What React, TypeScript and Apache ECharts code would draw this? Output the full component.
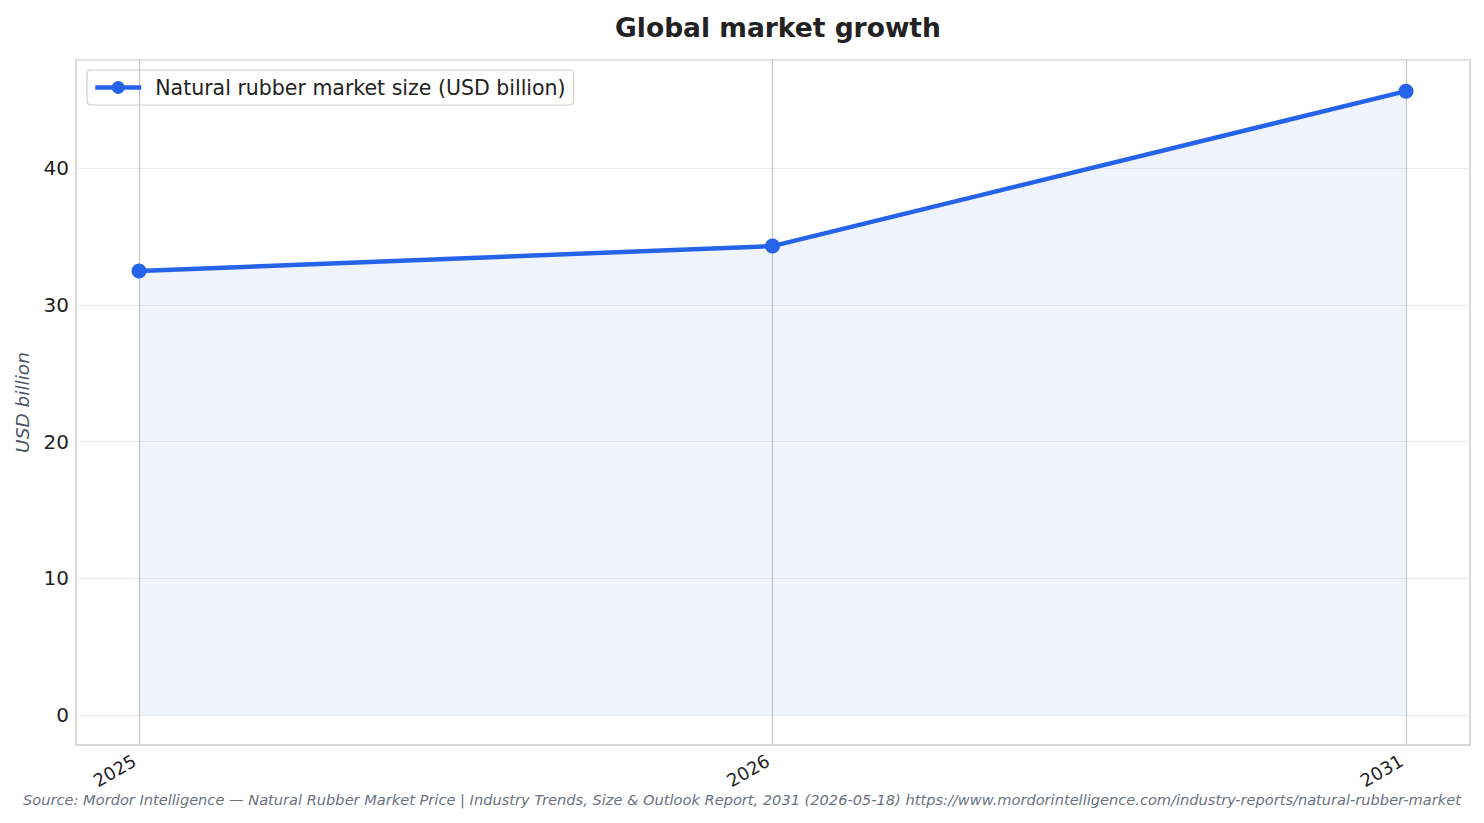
import React, { useEffect, useRef } from "react";
import * as echarts from "echarts";

const categories = ["2025", "2026", "2031"];
const marketSize = [32.47, 34.3, 45.63];
const seriesName = "Natural rubber market size (USD billion)";
const yTicks = [0, 10, 20, 30, 40];
const titleText = "Global market growth";
const yAxisName = "USD billion";
const sourceText =
  "Source: Mordor Intelligence — Natural Rubber Market Price | Industry Trends, Size & Outlook Report, 2031 (2026-05-18) https://www.mordorintelligence.com/industry-reports/natural-rubber-market";

const FONT = "DejaVu Sans";
const Y_MAX = 47.91;

export default function App() {
  const ref = useRef<HTMLDivElement>(null);
  useEffect(() => {
    if (!ref.current) return;
    const chart = echarts.init(ref.current, null, { renderer: "svg" });
    const option: any = {
      animation: false,
      backgroundColor: "#ffffff",
      textStyle: { fontFamily: FONT },
      title: {
        text: titleText,
        left: 773,
        textAlign: "center",
        top: 9,
        textStyle: { fontFamily: FONT, fontSize: 26.5, fontWeight: "bold", color: "#222222" },
      },
      legend: {
        show: true,
        left: 87,
        top: 70,
        orient: "horizontal",
        padding: [7, 8, 7, 6],
        borderColor: "#cccccc",
        borderWidth: 1.2,
        borderRadius: 4,
        itemWidth: 46,
        itemHeight: 16,
        itemGap: 10,
        lineStyle: { width: 4.5 },
        textStyle: { fontFamily: FONT, fontSize: 20.5, color: "#222222", padding: [0, 0, 0, 9] },
        data: [seriesName],
      },
      grid: [
        { left: 76, right: 14, top: 60, bottom: 78, show: true, borderColor: "#cccccc", borderWidth: 1.5, backgroundColor: "transparent" },
        { left: 76, right: 14, top: 60, bottom: 108 },
        { left: 139, right: 78, top: 60, bottom: 78 },
        { left: 139, right: 78, top: 60, bottom: 108 },
      ],
      xAxis: [
        { gridIndex: 0, type: "value", min: 0, max: 1, show: false },
        { gridIndex: 1, type: "value", min: 0, max: 1, show: false },
        {
          gridIndex: 2,
          type: "category",
          data: categories,
          boundaryGap: false,
          axisLine: { show: false },
          axisTick: { show: false },
          splitLine: { show: true, lineStyle: { color: "#c8c8c8", width: 1.2 } },
          axisLabel: {
            rotate: 30,
            margin: 22,
            align: "right",
            verticalAlign: "bottom",
            fontFamily: FONT,
            fontSize: 18,
            color: "#222222",
          },
        },
        { gridIndex: 3, type: "category", data: categories, boundaryGap: false, show: false },
      ],
      yAxis: [
        {
          gridIndex: 0,
          type: "value",
          min: 0,
          max: 1,
          axisLine: { show: false },
          axisTick: { show: false },
          axisLabel: { show: false },
          splitLine: { show: false },
          name: yAxisName,
          nameLocation: "middle",
          nameRotate: 90,
          nameGap: 44,
          nameTextStyle: { fontFamily: FONT, fontSize: 18.5, fontStyle: "italic", color: "#4b5563" },
        },
        {
          gridIndex: 1,
          type: "value",
          min: 0,
          max: Y_MAX,
          interval: 10,
          axisLine: { show: false },
          axisTick: { show: false },
          splitLine: { show: true, lineStyle: { color: "#ebebeb", width: 1.2 } },
          axisLabel: {
            margin: 7,
            fontFamily: FONT,
            fontSize: 20,
            color: "#222222",
            formatter: (v: number) => (yTicks.indexOf(v) >= 0 ? String(v) : ""),
          },
        },
        { gridIndex: 2, type: "value", min: 0, max: 1, show: false },
        { gridIndex: 3, type: "value", min: 0, max: Y_MAX, show: false },
      ],
      series: [
        {
          name: seriesName,
          type: "line",
          xAxisIndex: 3,
          yAxisIndex: 3,
          data: marketSize,
          symbol: "circle",
          symbolSize: 15,
          showSymbol: true,
          itemStyle: { color: "#2563eb" },
          lineStyle: { color: "#2563eb", width: 4.5 },
          areaStyle: { color: "rgba(37,99,235,0.1)", origin: "start" },
          z: 5,
        },
      ],
      graphic: [
        {
          type: "text",
          x: 742,
          y: 799,
          style: {
            text: sourceText,
            fontFamily: FONT,
            fontSize: 14.6,
            fontStyle: "italic",
            fill: "#6b7280",
            align: "center",
            verticalAlign: "middle",
          },
        },
      ],
    };
    chart.setOption(option);
    return () => chart.dispose();
  }, []);
  return <div ref={ref} style={{ width: 1484, height: 823, position: "absolute", left: 0, top: 0 }} />;
}
